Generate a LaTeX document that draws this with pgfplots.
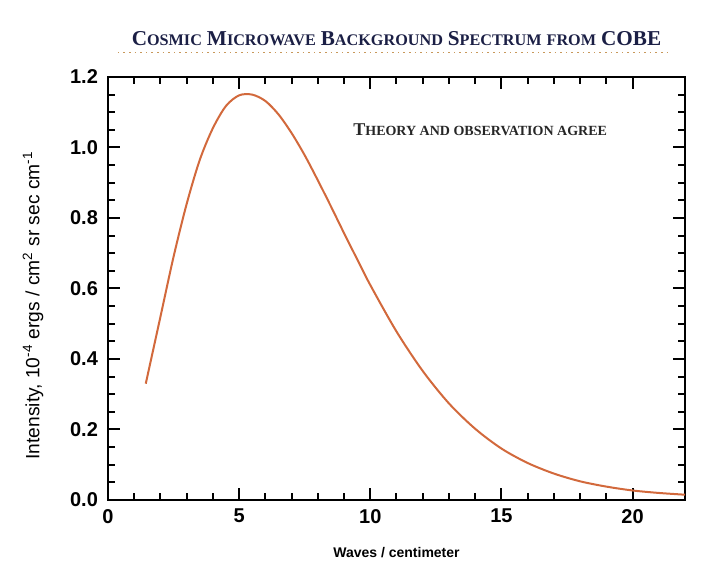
\documentclass[border=0pt]{standalone}
\usepackage{fontspec}
\setmainfont{Liberation Sans}
\newfontfamily\titlefont{Liberation Serif}
\usepackage{pgfplots}
\pgfplotsset{compat=1.18}

\definecolor{curve}{HTML}{D2693C}
\definecolor{titleblue}{HTML}{1B1F45}
\definecolor{rulebrown}{HTML}{C8985A}

% faux small caps: big initial, smaller rest
\newcommand{\bigc}[1]{{\fontsize{10.6}{12}\selectfont #1}}
\newcommand{\smc}[1]{{\fontsize{8.1}{9}\selectfont #1}}
\newcommand{\nbigc}[1]{{\fontsize{9}{10}\selectfont #1}}
\newcommand{\nsmc}[1]{{\fontsize{7}{8}\selectfont #1}}

\begin{document}
\begin{tikzpicture}
\useasboundingbox (-54pt,-39pt) rectangle (297.5pt,250pt);
\begin{axis}[
    at={(0,0)}, anchor=south west,
    width=288.5pt, height=211.5pt,
    scale only axis,
    xmin=0, xmax=22,
    ymin=0, ymax=1.2,
    xtick={0,5,10,15,20},
    ytick={0,0.2,0.4,0.6,0.8,1.0,1.2},
    minor x tick num=4,
    minor y tick num=3,
    yticklabel style={xshift=-1.5pt, /pgf/number format/.cd, fixed, fixed zerofill, precision=1},
    xticklabel style={yshift=-1pt},
    /pgf/number format/assume math mode=true,
    tick align=inside,
    major tick length=6pt,
    minor tick length=3.5pt,
    every tick/.style={black, line width=1pt},
    axis line style={line width=1.3pt},
    tick label style={font=\fontsize{10}{12}\selectfont\bfseries},
    xlabel={Waves / centimeter},
    ylabel={Intensity, 10\textsuperscript{-4} ergs / cm\textsuperscript{2} sr sec cm\textsuperscript{-1}},
    xlabel style={font=\fontsize{7}{9}\selectfont\bfseries,
        at={(axis description cs:0.5,-0.125)}, anchor=center},
    ylabel style={font=\fontsize{9.6}{11}\selectfont,
        at={(axis description cs:-0.130,0.46)}, anchor=center},
    clip=false,
]
\addplot[curve, line width=1pt, smooth] coordinates {
    (1.44,0.330) (2.0,0.520) (2.5,0.690) (3.0,0.840) (3.5,0.965)
    (4.0,1.055) (4.5,1.118) (5.0,1.148) (5.5,1.150) (6.0,1.132)
    (6.5,1.094) (7.0,1.041) (7.5,0.978) (8.0,0.907) (8.5,0.833)
    (9.0,0.757) (9.5,0.683) (10,0.610) (11,0.478) (12,0.366)
    (13,0.274) (14,0.202) (15,0.146) (16,0.105) (17,0.075)
    (18,0.053) (19,0.038) (20,0.027) (21,0.020) (22,0.015)
};
\node[text=titleblue, font=\titlefont\bfseries, anchor=center]
    at (rel axis cs:0.5,1.09)
    {\bigc{C}\smc{OSMIC} \bigc{M}\smc{ICROWAVE} \bigc{B}\smc{ACKGROUND} \bigc{S}\smc{PECTRUM} \smc{FROM} \bigc{COBE}};
\draw[rulebrown, line width=0.8pt, dotted] (rel axis cs:0.017,1.058) -- (rel axis cs:0.975,1.058);
\node[text=black!85, font=\titlefont\bfseries, anchor=center]
    at (rel axis cs:0.645,0.875)
    {\nbigc{T}\nsmc{HEORY AND OBSERVATION AGREE}};
\end{axis}
\end{tikzpicture}
\end{document}
